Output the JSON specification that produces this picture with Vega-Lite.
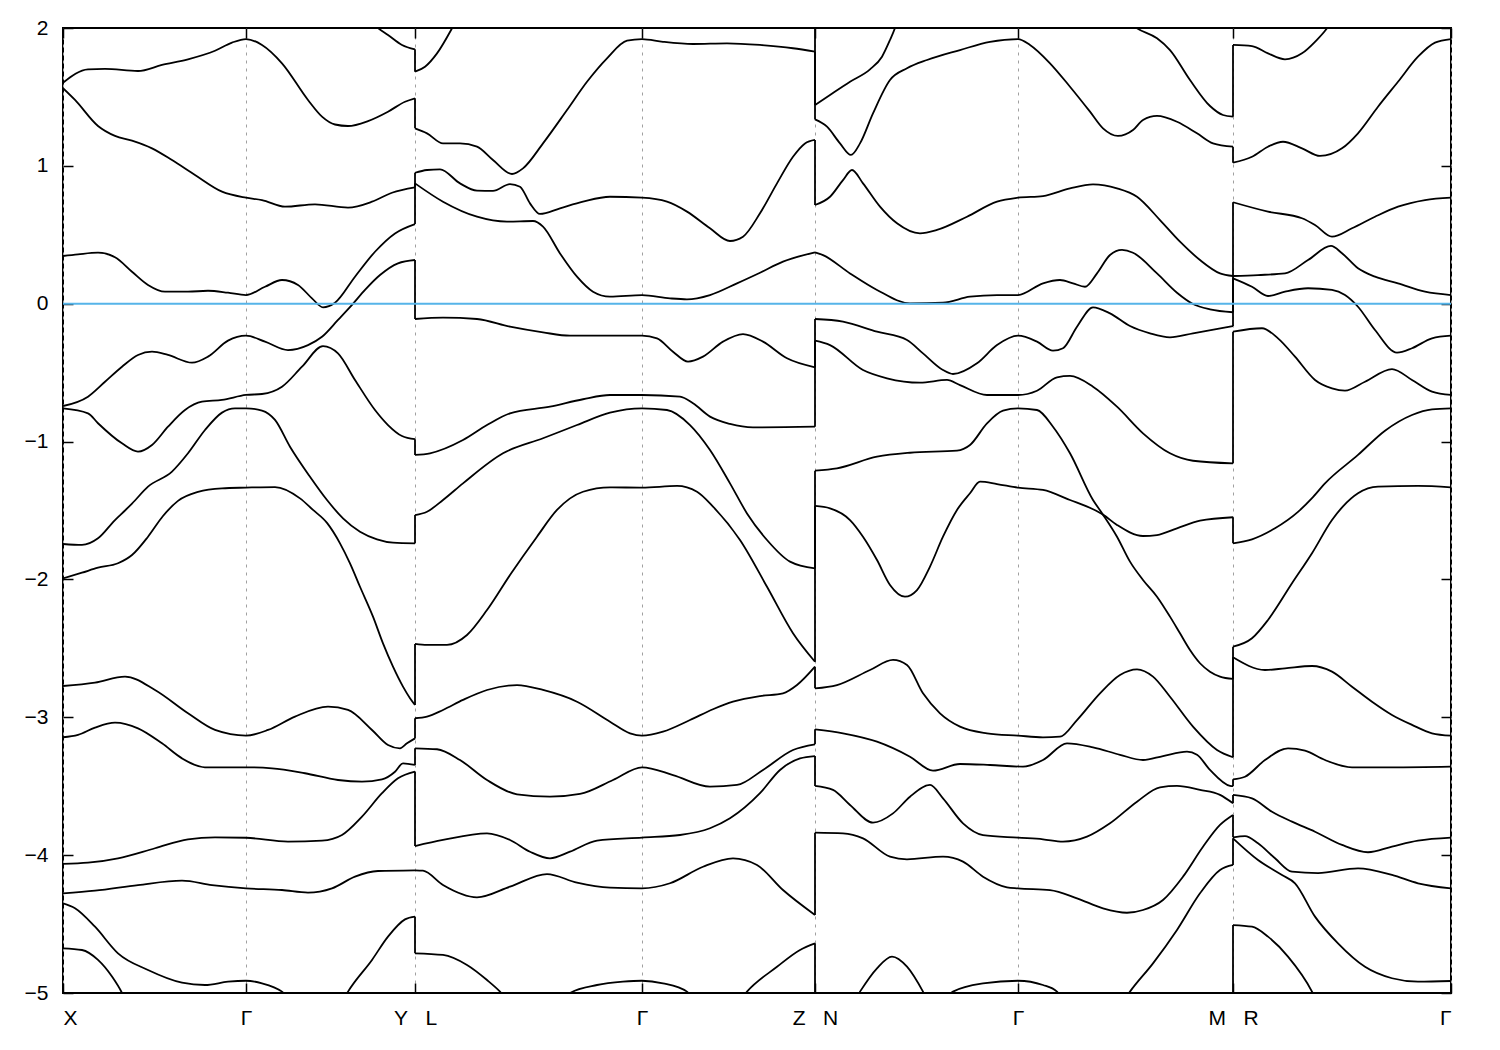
{
"$schema": "https://vega.github.io/schema/vega-lite/v6.json",
"width": 1388, "height": 965,
"autosize": "none",
"padding": {"left": 63, "top": 28, "right": 49, "bottom": 57},
"background": "white",
"config": {"view": {"stroke": "black", "strokeWidth": 2}, "axis": {"labelFont": "Liberation Sans", "labelFontSize": 21, "labelColor": "black", "tickColor": "black", "tickWidth": 1.5, "domain": false, "title": null}},
"datasets": {
"bands": [
{"b":"1A","x":0,"y":1.603},{"b":"1A","x":25,"y":1.70},{"b":"1A","x":42,"y":1.703},{"b":"1A","x":75,"y":1.688},{"b":"1A","x":99,"y":1.732},{"b":"1A","x":125,"y":1.773},{"b":"1A","x":152,"y":1.835},{"b":"1A","x":169,"y":1.894},{"b":"1A","x":183,"y":1.92},{"b":"1A","x":199,"y":1.877},{"b":"1A","x":219,"y":1.744},{"b":"1A","x":245,"y":1.478},{"b":"1A","x":259,"y":1.357},{"b":"1A","x":272,"y":1.30},{"b":"1A","x":285,"y":1.289},{"b":"1A","x":305,"y":1.325},{"b":"1A","x":325,"y":1.393},{"b":"1A","x":342,"y":1.465},{"b":"1A","x":352,"y":1.49},
{"b":"1T","x":285,"y":2.22},{"b":"1T","x":300,"y":2.1},{"b":"1T","x":315,"y":2.0},{"b":"1T","x":325,"y":1.95},{"b":"1T","x":339,"y":1.877},{"b":"1T","x":352,"y":1.845},
{"b":"1B","x":0,"y":1.563},{"b":"1B","x":12,"y":1.478},{"b":"1B","x":35,"y":1.289},{"b":"1B","x":52,"y":1.217},{"b":"1B","x":69,"y":1.183},{"b":"1B","x":89,"y":1.127},{"b":"1B","x":109,"y":1.042},{"b":"1B","x":132,"y":0.934},{"b":"1B","x":159,"y":0.813},{"b":"1B","x":183,"y":0.769},{"b":"1B","x":199,"y":0.752},{"b":"1B","x":222,"y":0.704},{"b":"1B","x":252,"y":0.721},{"b":"1B","x":285,"y":0.697},{"b":"1B","x":309,"y":0.74},{"b":"1B","x":329,"y":0.805},{"b":"1B","x":352,"y":0.844},
{"b":"1C","x":0,"y":0.346},{"b":"1C","x":15,"y":0.358},{"b":"1C","x":35,"y":0.37},{"b":"1C","x":52,"y":0.337},{"b":"1C","x":69,"y":0.232},{"b":"1C","x":85,"y":0.136},{"b":"1C","x":102,"y":0.087},{"b":"1C","x":125,"y":0.087},{"b":"1C","x":145,"y":0.094},{"b":"1C","x":165,"y":0.08},{"b":"1C","x":183,"y":0.063},{"b":"1C","x":202,"y":0.123},{"b":"1C","x":219,"y":0.172},{"b":"1C","x":235,"y":0.136},{"b":"1C","x":249,"y":0.039},{"b":"1C","x":260,"y":-0.026},{"b":"1C","x":272,"y":0.007},{"b":"1C","x":292,"y":0.196},{"b":"1C","x":312,"y":0.377},{"b":"1C","x":332,"y":0.51},{"b":"1C","x":352,"y":0.578},
{"b":"1D","x":0,"y":-0.742},{"b":"1D","x":25,"y":-0.674},{"b":"1D","x":42,"y":-0.566},{"b":"1D","x":59,"y":-0.457},{"b":"1D","x":75,"y":-0.372},{"b":"1D","x":89,"y":-0.348},{"b":"1D","x":105,"y":-0.372},{"b":"1D","x":129,"y":-0.428},{"b":"1D","x":145,"y":-0.384},{"b":"1D","x":165,"y":-0.268},{"b":"1D","x":183,"y":-0.232},{"b":"1D","x":202,"y":-0.275},{"b":"1D","x":225,"y":-0.336},{"b":"1D","x":245,"y":-0.30},{"b":"1D","x":259,"y":-0.24},{"b":"1D","x":275,"y":-0.118},{"b":"1D","x":289,"y":-0.009},{"b":"1D","x":302,"y":0.10},{"b":"1D","x":317,"y":0.208},{"b":"1D","x":335,"y":0.293},{"b":"1D","x":352,"y":0.317},
{"b":"1F","x":0,"y":-0.759},{"b":"1F","x":25,"y":-0.795},{"b":"1F","x":35,"y":-0.867},{"b":"1F","x":59,"y":-1.013},{"b":"1F","x":75,"y":-1.073},{"b":"1F","x":89,"y":-1.025},{"b":"1F","x":105,"y":-0.892},{"b":"1F","x":122,"y":-0.771},{"b":"1F","x":139,"y":-0.711},{"b":"1F","x":159,"y":-0.698},{"b":"1F","x":183,"y":-0.662},{"b":"1F","x":199,"y":-0.655},{"b":"1F","x":219,"y":-0.602},{"b":"1F","x":239,"y":-0.457},{"b":"1F","x":260,"y":-0.307},{"b":"1F","x":275,"y":-0.36},{"b":"1F","x":292,"y":-0.553},{"b":"1F","x":312,"y":-0.771},{"b":"1F","x":325,"y":-0.88},{"b":"1F","x":339,"y":-0.96},{"b":"1F","x":352,"y":-0.983},
{"b":"1G","x":0,"y":-1.743},{"b":"1G","x":19,"y":-1.75},{"b":"1G","x":35,"y":-1.702},{"b":"1G","x":52,"y":-1.569},{"b":"1G","x":62,"y":-1.50},{"b":"1G","x":69,"y":-1.45},{"b":"1G","x":85,"y":-1.327},{"b":"1G","x":109,"y":-1.218},{"b":"1G","x":125,"y":-1.085},{"b":"1G","x":142,"y":-0.916},{"b":"1G","x":159,"y":-0.79},{"b":"1G","x":172,"y":-0.759},{"b":"1G","x":183,"y":-0.759},{"b":"1G","x":199,"y":-0.775},{"b":"1G","x":212,"y":-0.843},{"b":"1G","x":227,"y":-1.037},{"b":"1G","x":247,"y":-1.255},{"b":"1G","x":264,"y":-1.424},{"b":"1G","x":280,"y":-1.557},{"b":"1G","x":297,"y":-1.654},{"b":"1G","x":314,"y":-1.709},{"b":"1G","x":330,"y":-1.733},{"b":"1G","x":352,"y":-1.738},
{"b":"1H","x":0,"y":-1.992},{"b":"1H","x":19,"y":-1.951},{"b":"1H","x":35,"y":-1.915},{"b":"1H","x":55,"y":-1.883},{"b":"1H","x":69,"y":-1.823},{"b":"1H","x":85,"y":-1.69},{"b":"1H","x":100,"y":-1.54},{"b":"1H","x":115,"y":-1.43},{"b":"1H","x":135,"y":-1.365},{"b":"1H","x":159,"y":-1.339},{"b":"1H","x":183,"y":-1.334},{"b":"1H","x":212,"y":-1.33},{"b":"1H","x":237,"y":-1.412},{"b":"1H","x":250,"y":-1.496},{"b":"1H","x":264,"y":-1.59},{"b":"1H","x":277,"y":-1.738},{"b":"1H","x":287,"y":-1.883},{"b":"1H","x":297,"y":-2.053},{"b":"1H","x":310,"y":-2.27},{"b":"1H","x":320,"y":-2.464},{"b":"1H","x":330,"y":-2.633},{"b":"1H","x":340,"y":-2.778},{"b":"1H","x":347,"y":-2.862},{"b":"1H","x":352,"y":-2.911},
{"b":"1I","x":0,"y":-2.773},{"b":"1I","x":32,"y":-2.749},{"b":"1I","x":62,"y":-2.705},{"b":"1I","x":92,"y":-2.802},{"b":"1I","x":125,"y":-2.971},{"b":"1I","x":152,"y":-3.092},{"b":"1I","x":183,"y":-3.133},{"b":"1I","x":205,"y":-3.092},{"b":"1I","x":232,"y":-2.995},{"b":"1I","x":265,"y":-2.923},{"b":"1I","x":285,"y":-2.947},{"b":"1I","x":309,"y":-3.092},{"b":"1I","x":325,"y":-3.201},{"b":"1I","x":337,"y":-3.225},{"b":"1I","x":344,"y":-3.189},{"b":"1I","x":352,"y":-3.153},
{"b":"1J","x":0,"y":-3.145},{"b":"1J","x":15,"y":-3.128},{"b":"1J","x":32,"y":-3.075},{"b":"1J","x":52,"y":-3.039},{"b":"1J","x":75,"y":-3.08},{"b":"1J","x":99,"y":-3.189},{"b":"1J","x":119,"y":-3.298},{"b":"1J","x":142,"y":-3.363},{"b":"1J","x":183,"y":-3.363},{"b":"1J","x":209,"y":-3.37},{"b":"1J","x":242,"y":-3.406},{"b":"1J","x":275,"y":-3.455},{"b":"1J","x":299,"y":-3.467},{"b":"1J","x":319,"y":-3.45},{"b":"1J","x":332,"y":-3.395},{"b":"1J","x":340,"y":-3.334},{"b":"1J","x":352,"y":-3.346},
{"b":"1K","x":0,"y":-4.064},{"b":"1K","x":25,"y":-4.055},{"b":"1K","x":55,"y":-4.023},{"b":"1K","x":92,"y":-3.95},{"b":"1K","x":125,"y":-3.885},{"b":"1K","x":152,"y":-3.871},{"b":"1K","x":183,"y":-3.874},{"b":"1K","x":225,"y":-3.902},{"b":"1K","x":259,"y":-3.895},{"b":"1K","x":279,"y":-3.854},{"b":"1K","x":299,"y":-3.721},{"b":"1K","x":319,"y":-3.551},{"b":"1K","x":335,"y":-3.443},{"b":"1K","x":352,"y":-3.394},
{"b":"1L","x":0,"y":-4.277},{"b":"1L","x":32,"y":-4.258},{"b":"1L","x":75,"y":-4.217},{"b":"1L","x":119,"y":-4.185},{"b":"1L","x":149,"y":-4.217},{"b":"1L","x":183,"y":-4.241},{"b":"1L","x":219,"y":-4.253},{"b":"1L","x":245,"y":-4.272},{"b":"1L","x":269,"y":-4.241},{"b":"1L","x":292,"y":-4.156},{"b":"1L","x":315,"y":-4.115},{"b":"1L","x":352,"y":-4.11},
{"b":"1M","x":0,"y":-4.349},{"b":"1M","x":12,"y":-4.385},{"b":"1M","x":32,"y":-4.519},{"b":"1M","x":55,"y":-4.712},{"b":"1M","x":85,"y":-4.833},{"b":"1M","x":119,"y":-4.925},{"b":"1M","x":142,"y":-4.942},{"b":"1M","x":165,"y":-4.918},{"b":"1M","x":183,"y":-4.911},{"b":"1M","x":199,"y":-4.93},{"b":"1M","x":219,"y":-4.99},{"b":"1M","x":235,"y":-5.1},{"b":"1M","x":255,"y":-5.2},{"b":"1M","x":275,"y":-5.12},{"b":"1M","x":285,"y":-4.99},{"b":"1M","x":309,"y":-4.76},{"b":"1M","x":325,"y":-4.591},{"b":"1M","x":342,"y":-4.466},{"b":"1M","x":352,"y":-4.446},
{"b":"1N","x":0,"y":-4.676},{"b":"1N","x":19,"y":-4.688},{"b":"1N","x":35,"y":-4.76},{"b":"1N","x":49,"y":-4.881},{"b":"1N","x":59,"y":-5.0},{"b":"1N","x":75,"y":-5.3},
{"b":"2a","x":352,"y":1.683},{"b":"2a","x":362,"y":1.719},{"b":"2a","x":374,"y":1.816},{"b":"2a","x":389,"y":1.998},{"b":"2a","x":400,"y":2.15},
{"b":"2b","x":352,"y":1.272},{"b":"2b","x":364,"y":1.236},{"b":"2b","x":380,"y":1.163},{"b":"2b","x":397,"y":1.163},{"b":"2b","x":414,"y":1.139},{"b":"2b","x":430,"y":1.042},{"b":"2b","x":449,"y":0.941},{"b":"2b","x":460,"y":0.982},{"b":"2b","x":480,"y":1.163},{"b":"2b","x":504,"y":1.405},{"b":"2b","x":524,"y":1.61},{"b":"2b","x":544,"y":1.78},{"b":"2b","x":564,"y":1.908},{"b":"2b","x":579,"y":1.92},{"b":"2b","x":600,"y":1.90},{"b":"2b","x":630,"y":1.884},{"b":"2b","x":664,"y":1.889},{"b":"2b","x":697,"y":1.877},{"b":"2b","x":730,"y":1.853},{"b":"2b","x":752,"y":1.828},
{"b":"2c","x":352,"y":0.95},{"b":"2c","x":364,"y":0.97},{"b":"2c","x":377,"y":0.975},{"b":"2c","x":397,"y":0.873},{"b":"2c","x":414,"y":0.82},{"b":"2c","x":430,"y":0.818},{"b":"2c","x":447,"y":0.868},{"b":"2c","x":457,"y":0.849},{"b":"2c","x":467,"y":0.728},{"b":"2c","x":477,"y":0.651},{"b":"2c","x":497,"y":0.692},{"b":"2c","x":520,"y":0.74},{"b":"2c","x":547,"y":0.776},{"b":"2c","x":579,"y":0.769},{"b":"2c","x":604,"y":0.74},{"b":"2c","x":624,"y":0.668},{"b":"2c","x":647,"y":0.547},{"b":"2c","x":667,"y":0.455},{"b":"2c","x":680,"y":0.486},{"b":"2c","x":697,"y":0.656},{"b":"2c","x":714,"y":0.873},{"b":"2c","x":730,"y":1.066},{"b":"2c","x":742,"y":1.163},{"b":"2c","x":752,"y":1.188},
{"b":"2d","x":352,"y":0.873},{"b":"2d","x":380,"y":0.74},{"b":"2d","x":414,"y":0.631},{"b":"2d","x":444,"y":0.595},{"b":"2d","x":470,"y":0.60},{"b":"2d","x":480,"y":0.559},{"b":"2d","x":497,"y":0.365},{"b":"2d","x":514,"y":0.196},{"b":"2d","x":530,"y":0.087},{"b":"2d","x":547,"y":0.051},{"b":"2d","x":579,"y":0.063},{"b":"2d","x":607,"y":0.039},{"b":"2d","x":624,"y":0.032},{"b":"2d","x":647,"y":0.063},{"b":"2d","x":674,"y":0.148},{"b":"2d","x":697,"y":0.225},{"b":"2d","x":720,"y":0.305},{"b":"2d","x":752,"y":0.373},
{"b":"2e","x":352,"y":-0.111},{"b":"2e","x":380,"y":-0.101},{"b":"2e","x":414,"y":-0.111},{"b":"2e","x":447,"y":-0.167},{"b":"2e","x":480,"y":-0.208},{"b":"2e","x":507,"y":-0.232},{"b":"2e","x":579,"y":-0.232},{"b":"2e","x":594,"y":-0.251},{"b":"2e","x":610,"y":-0.348},{"b":"2e","x":625,"y":-0.42},{"b":"2e","x":640,"y":-0.384},{"b":"2e","x":660,"y":-0.275},{"b":"2e","x":680,"y":-0.22},{"b":"2e","x":700,"y":-0.275},{"b":"2e","x":724,"y":-0.396},{"b":"2e","x":752,"y":-0.461},
{"b":"2f","x":352,"y":-1.097},{"b":"2f","x":367,"y":-1.085},{"b":"2f","x":400,"y":-0.989},{"b":"2f","x":424,"y":-0.88},{"b":"2f","x":447,"y":-0.795},{"b":"2f","x":487,"y":-0.747},{"b":"2f","x":520,"y":-0.693},{"b":"2f","x":547,"y":-0.662},{"b":"2f","x":579,"y":-0.662},{"b":"2f","x":617,"y":-0.674},{"b":"2f","x":630,"y":-0.722},{"b":"2f","x":647,"y":-0.819},{"b":"2f","x":667,"y":-0.872},{"b":"2f","x":690,"y":-0.897},{"b":"2f","x":752,"y":-0.892},
{"b":"2g","x":352,"y":-1.533},{"b":"2g","x":364,"y":-1.509},{"b":"2g","x":380,"y":-1.424},{"b":"2g","x":400,"y":-1.303},{"b":"2g","x":440,"y":-1.085},{"b":"2g","x":480,"y":-0.976},{"b":"2g","x":514,"y":-0.88},{"b":"2g","x":547,"y":-0.79},{"b":"2g","x":579,"y":-0.759},{"b":"2g","x":604,"y":-0.771},{"b":"2g","x":627,"y":-0.88},{"b":"2g","x":647,"y":-1.061},{"b":"2g","x":667,"y":-1.303},{"b":"2g","x":684,"y":-1.521},{"b":"2g","x":704,"y":-1.714},{"b":"2g","x":727,"y":-1.871},{"b":"2g","x":752,"y":-1.92},
{"b":"2h","x":352,"y":-2.468},{"b":"2h","x":364,"y":-2.475},{"b":"2h","x":384,"y":-2.475},{"b":"2h","x":404,"y":-2.403},{"b":"2h","x":424,"y":-2.222},{"b":"2h","x":447,"y":-1.968},{"b":"2h","x":474,"y":-1.69},{"b":"2h","x":494,"y":-1.496},{"b":"2h","x":520,"y":-1.364},{"b":"2h","x":547,"y":-1.332},{"b":"2h","x":579,"y":-1.334},{"b":"2h","x":614,"y":-1.322},{"b":"2h","x":634,"y":-1.364},{"b":"2h","x":650,"y":-1.472},{"b":"2h","x":677,"y":-1.714},{"b":"2h","x":704,"y":-2.053},{"b":"2h","x":730,"y":-2.39},{"b":"2h","x":752,"y":-2.597},
{"b":"2i","x":352,"y":-3.007},{"b":"2i","x":364,"y":-2.995},{"b":"2i","x":380,"y":-2.947},{"b":"2i","x":400,"y":-2.874},{"b":"2i","x":424,"y":-2.802},{"b":"2i","x":454,"y":-2.766},{"b":"2i","x":480,"y":-2.802},{"b":"2i","x":514,"y":-2.887},{"b":"2i","x":547,"y":-3.032},{"b":"2i","x":567,"y":-3.116},{"b":"2i","x":579,"y":-3.133},{"b":"2i","x":600,"y":-3.104},{"b":"2i","x":627,"y":-3.02},{"b":"2i","x":650,"y":-2.942},{"b":"2i","x":670,"y":-2.887},{"b":"2i","x":697,"y":-2.846},{"b":"2i","x":720,"y":-2.826},{"b":"2i","x":734,"y":-2.766},{"b":"2i","x":752,"y":-2.633},
{"b":"2j","x":352,"y":-3.225},{"b":"2j","x":374,"y":-3.232},{"b":"2j","x":397,"y":-3.31},{"b":"2j","x":424,"y":-3.455},{"b":"2j","x":454,"y":-3.559},{"b":"2j","x":487,"y":-3.576},{"b":"2j","x":517,"y":-3.556},{"b":"2j","x":550,"y":-3.455},{"b":"2j","x":579,"y":-3.363},{"b":"2j","x":610,"y":-3.419},{"b":"2j","x":647,"y":-3.503},{"b":"2j","x":674,"y":-3.491},{"b":"2j","x":700,"y":-3.382},{"b":"2j","x":730,"y":-3.237},{"b":"2j","x":752,"y":-3.196},
{"b":"2k","x":352,"y":-3.934},{"b":"2k","x":380,"y":-3.89},{"b":"2k","x":424,"y":-3.842},{"b":"2k","x":447,"y":-3.89},{"b":"2k","x":467,"y":-3.975},{"b":"2k","x":487,"y":-4.023},{"b":"2k","x":507,"y":-3.975},{"b":"2k","x":534,"y":-3.895},{"b":"2k","x":579,"y":-3.873},{"b":"2k","x":617,"y":-3.854},{"b":"2k","x":647,"y":-3.805},{"b":"2k","x":667,"y":-3.733},{"b":"2k","x":697,"y":-3.551},{"b":"2k","x":717,"y":-3.382},{"b":"2k","x":737,"y":-3.298},{"b":"2k","x":752,"y":-3.281},
{"b":"2l","x":352,"y":-4.11},{"b":"2l","x":360,"y":-4.113},{"b":"2l","x":380,"y":-4.217},{"b":"2l","x":414,"y":-4.306},{"b":"2l","x":447,"y":-4.229},{"b":"2l","x":484,"y":-4.137},{"b":"2l","x":514,"y":-4.2},{"b":"2l","x":547,"y":-4.236},{"b":"2l","x":579,"y":-4.241},{"b":"2l","x":607,"y":-4.204},{"b":"2l","x":640,"y":-4.084},{"b":"2l","x":670,"y":-4.023},{"b":"2l","x":694,"y":-4.071},{"b":"2l","x":720,"y":-4.253},{"b":"2l","x":752,"y":-4.434},
{"b":"2m","x":352,"y":-4.712},{"b":"2m","x":380,"y":-4.724},{"b":"2m","x":404,"y":-4.797},{"b":"2m","x":424,"y":-4.906},{"b":"2m","x":437,"y":-4.99},{"b":"2m","x":460,"y":-5.2},{"b":"2m","x":490,"y":-5.12},{"b":"2m","x":507,"y":-5.0},{"b":"2m","x":534,"y":-4.942},{"b":"2m","x":560,"y":-4.918},{"b":"2m","x":579,"y":-4.911},{"b":"2m","x":600,"y":-4.93},{"b":"2m","x":624,"y":-4.99},{"b":"2m","x":650,"y":-5.2},{"b":"2m","x":670,"y":-5.12},{"b":"2m","x":684,"y":-4.99},{"b":"2m","x":714,"y":-4.81},{"b":"2m","x":737,"y":-4.688},{"b":"2m","x":752,"y":-4.64},
{"b":"3A","x":752,"y":1.441},{"b":"3A","x":767,"y":1.514},{"b":"3A","x":787,"y":1.61},{"b":"3A","x":807,"y":1.70},{"b":"3A","x":819,"y":1.792},{"b":"3A","x":827,"y":1.913},{"b":"3A","x":832,"y":2.0},{"b":"3A","x":840,"y":2.2},
{"b":"3B","x":752,"y":1.337},{"b":"3B","x":764,"y":1.284},{"b":"3B","x":777,"y":1.163},{"b":"3B","x":788,"y":1.079},{"b":"3B","x":797,"y":1.163},{"b":"3B","x":810,"y":1.381},{"b":"3B","x":827,"y":1.623},{"b":"3B","x":844,"y":1.708},{"b":"3B","x":864,"y":1.768},{"b":"3B","x":897,"y":1.84},{"b":"3B","x":927,"y":1.90},{"b":"3B","x":955,"y":1.92},{"b":"3B","x":967,"y":1.877},{"b":"3B","x":987,"y":1.744},{"b":"3B","x":1007,"y":1.574},{"b":"3B","x":1027,"y":1.393},{"b":"3B","x":1040,"y":1.272},{"b":"3B","x":1055,"y":1.217},{"b":"3B","x":1070,"y":1.26},{"b":"3B","x":1080,"y":1.333},{"b":"3B","x":1094,"y":1.362},{"b":"3B","x":1114,"y":1.32},{"b":"3B","x":1134,"y":1.236},{"b":"3B","x":1150,"y":1.163},{"b":"3B","x":1170,"y":1.139},
{"b":"3C","x":1050,"y":2.15},{"b":"3C","x":1074,"y":1.998},{"b":"3C","x":1094,"y":1.925},{"b":"3C","x":1107,"y":1.84},{"b":"3C","x":1127,"y":1.623},{"b":"3C","x":1147,"y":1.434},{"b":"3C","x":1160,"y":1.369},{"b":"3C","x":1170,"y":1.357},
{"b":"3D","x":752,"y":0.716},{"b":"3D","x":767,"y":0.776},{"b":"3D","x":780,"y":0.897},{"b":"3D","x":789,"y":0.97},{"b":"3D","x":800,"y":0.873},{"b":"3D","x":817,"y":0.704},{"b":"3D","x":834,"y":0.583},{"b":"3D","x":857,"y":0.51},{"b":"3D","x":874,"y":0.535},{"b":"3D","x":904,"y":0.631},{"b":"3D","x":934,"y":0.74},{"b":"3D","x":955,"y":0.769},{"b":"3D","x":980,"y":0.781},{"b":"3D","x":1007,"y":0.837},{"b":"3D","x":1030,"y":0.866},{"b":"3D","x":1054,"y":0.837},{"b":"3D","x":1074,"y":0.776},{"b":"3D","x":1097,"y":0.607},{"b":"3D","x":1117,"y":0.45},{"b":"3D","x":1137,"y":0.317},{"b":"3D","x":1157,"y":0.22},{"b":"3D","x":1170,"y":0.201},
{"b":"3E","x":752,"y":0.373},{"b":"3E","x":760,"y":0.353},{"b":"3E","x":787,"y":0.22},{"b":"3E","x":814,"y":0.10},{"b":"3E","x":847,"y":0.003},{"b":"3E","x":880,"y":0.007},{"b":"3E","x":907,"y":0.051},{"b":"3E","x":934,"y":0.063},{"b":"3E","x":955,"y":0.063},{"b":"3E","x":980,"y":0.148},{"b":"3E","x":997,"y":0.172},{"b":"3E","x":1010,"y":0.148},{"b":"3E","x":1022,"y":0.123},{"b":"3E","x":1034,"y":0.22},{"b":"3E","x":1047,"y":0.353},{"b":"3E","x":1059,"y":0.39},{"b":"3E","x":1070,"y":0.37},{"b":"3E","x":1094,"y":0.22},{"b":"3E","x":1114,"y":0.08},{"b":"3E","x":1130,"y":-0.002},{"b":"3E","x":1147,"y":-0.041},{"b":"3E","x":1170,"y":-0.062},
{"b":"3F","x":752,"y":-0.111},{"b":"3F","x":780,"y":-0.13},{"b":"3F","x":814,"y":-0.203},{"b":"3F","x":844,"y":-0.263},{"b":"3F","x":860,"y":-0.36},{"b":"3F","x":880,"y":-0.481},{"b":"3F","x":890,"y":-0.51},{"b":"3F","x":914,"y":-0.432},{"b":"3F","x":934,"y":-0.30},{"b":"3F","x":955,"y":-0.232},{"b":"3F","x":974,"y":-0.275},{"b":"3F","x":990,"y":-0.341},{"b":"3F","x":1000,"y":-0.323},{"b":"3F","x":1014,"y":-0.167},{"b":"3F","x":1030,"y":-0.026},{"b":"3F","x":1047,"y":-0.07},{"b":"3F","x":1067,"y":-0.162},{"b":"3F","x":1087,"y":-0.215},{"b":"3F","x":1107,"y":-0.244},{"b":"3F","x":1130,"y":-0.215},{"b":"3F","x":1170,"y":-0.162},
{"b":"3G","x":752,"y":-0.268},{"b":"3G","x":767,"y":-0.30},{"b":"3G","x":800,"y":-0.481},{"b":"3G","x":824,"y":-0.541},{"b":"3G","x":857,"y":-0.573},{"b":"3G","x":884,"y":-0.553},{"b":"3G","x":897,"y":-0.59},{"b":"3G","x":924,"y":-0.662},{"b":"3G","x":955,"y":-0.662},{"b":"3G","x":974,"y":-0.631},{"b":"3G","x":994,"y":-0.534},{"b":"3G","x":1007,"y":-0.524},{"b":"3G","x":1030,"y":-0.602},{"b":"3G","x":1054,"y":-0.747},{"b":"3G","x":1080,"y":-0.94},{"b":"3G","x":1107,"y":-1.085},{"b":"3G","x":1130,"y":-1.139},{"b":"3G","x":1170,"y":-1.158},
{"b":"3H","x":752,"y":-1.211},{"b":"3H","x":774,"y":-1.194},{"b":"3H","x":814,"y":-1.11},{"b":"3H","x":847,"y":-1.081},{"b":"3H","x":894,"y":-1.066},{"b":"3H","x":907,"y":-1.025},{"b":"3H","x":924,"y":-0.868},{"b":"3H","x":940,"y":-0.776},{"b":"3H","x":955,"y":-0.759},{"b":"3H","x":974,"y":-0.771},{"b":"3H","x":990,"y":-0.892},{"b":"3H","x":1007,"y":-1.085},{"b":"3H","x":1030,"y":-1.424},{"b":"3H","x":1040,"y":-1.53},{"b":"3H","x":1054,"y":-1.69},{"b":"3H","x":1067,"y":-1.871},{"b":"3H","x":1080,"y":-2.004},{"b":"3H","x":1094,"y":-2.125},{"b":"3H","x":1107,"y":-2.27},{"b":"3H","x":1117,"y":-2.391},{"b":"3H","x":1127,"y":-2.512},{"b":"3H","x":1137,"y":-2.608},{"b":"3H","x":1147,"y":-2.669},{"b":"3H","x":1157,"y":-2.705},{"b":"3H","x":1170,"y":-2.722},
{"b":"3I","x":752,"y":-1.467},{"b":"3I","x":767,"y":-1.484},{"b":"3I","x":787,"y":-1.569},{"b":"3I","x":800,"y":-1.69},{"b":"3I","x":814,"y":-1.859},{"b":"3I","x":827,"y":-2.04},{"b":"3I","x":842,"y":-2.125},{"b":"3I","x":854,"y":-2.077},{"b":"3I","x":867,"y":-1.907},{"b":"3I","x":880,"y":-1.69},{"b":"3I","x":894,"y":-1.496},{"b":"3I","x":907,"y":-1.375},{"b":"3I","x":917,"y":-1.291},{"b":"3I","x":934,"y":-1.308},{"b":"3I","x":955,"y":-1.334},{"b":"3I","x":980,"y":-1.351},{"b":"3I","x":1007,"y":-1.424},{"b":"3I","x":1030,"y":-1.491},{"b":"3I","x":1040,"y":-1.53},{"b":"3I","x":1054,"y":-1.605},{"b":"3I","x":1080,"y":-1.685},{"b":"3I","x":1094,"y":-1.678},{"b":"3I","x":1114,"y":-1.629},{"b":"3I","x":1137,"y":-1.574},{"b":"3I","x":1170,"y":-1.549},
{"b":"3J","x":752,"y":-2.79},{"b":"3J","x":774,"y":-2.766},{"b":"3J","x":807,"y":-2.657},{"b":"3J","x":830,"y":-2.584},{"b":"3J","x":844,"y":-2.621},{"b":"3J","x":860,"y":-2.826},{"b":"3J","x":877,"y":-2.971},{"b":"3J","x":897,"y":-3.068},{"b":"3J","x":924,"y":-3.116},{"b":"3J","x":955,"y":-3.133},{"b":"3J","x":980,"y":-3.145},{"b":"3J","x":997,"y":-3.141},{"b":"3J","x":1014,"y":-3.02},{"b":"3J","x":1037,"y":-2.826},{"b":"3J","x":1057,"y":-2.693},{"b":"3J","x":1074,"y":-2.652},{"b":"3J","x":1090,"y":-2.705},{"b":"3J","x":1107,"y":-2.851},{"b":"3J","x":1130,"y":-3.068},{"b":"3J","x":1154,"y":-3.237},{"b":"3J","x":1170,"y":-3.29},
{"b":"3K","x":752,"y":-3.087},{"b":"3K","x":780,"y":-3.116},{"b":"3K","x":814,"y":-3.177},{"b":"3K","x":847,"y":-3.286},{"b":"3K","x":870,"y":-3.387},{"b":"3K","x":897,"y":-3.339},{"b":"3K","x":927,"y":-3.346},{"b":"3K","x":960,"y":-3.358},{"b":"3K","x":980,"y":-3.31},{"b":"3K","x":1004,"y":-3.189},{"b":"3K","x":1030,"y":-3.218},{"b":"3K","x":1057,"y":-3.272},{"b":"3K","x":1080,"y":-3.31},{"b":"3K","x":1100,"y":-3.281},{"b":"3K","x":1124,"y":-3.249},{"b":"3K","x":1134,"y":-3.272},{"b":"3K","x":1147,"y":-3.382},{"b":"3K","x":1167,"y":-3.498},{"b":"3K","x":1170,"y":-3.5},
{"b":"3L","x":752,"y":-3.498},{"b":"3L","x":770,"y":-3.527},{"b":"3L","x":787,"y":-3.636},{"b":"3L","x":810,"y":-3.764},{"b":"3L","x":830,"y":-3.697},{"b":"3L","x":847,"y":-3.576},{"b":"3L","x":867,"y":-3.491},{"b":"3L","x":880,"y":-3.588},{"b":"3L","x":900,"y":-3.769},{"b":"3L","x":920,"y":-3.854},{"b":"3L","x":955,"y":-3.873},{"b":"3L","x":980,"y":-3.885},{"b":"3L","x":1000,"y":-3.902},{"b":"3L","x":1024,"y":-3.866},{"b":"3L","x":1047,"y":-3.769},{"b":"3L","x":1074,"y":-3.612},{"b":"3L","x":1097,"y":-3.508},{"b":"3L","x":1114,"y":-3.498},{"b":"3L","x":1137,"y":-3.527},{"b":"3L","x":1157,"y":-3.563},{"b":"3L","x":1170,"y":-3.624},
{"b":"3M","x":752,"y":-3.837},{"b":"3M","x":780,"y":-3.842},{"b":"3M","x":800,"y":-3.878},{"b":"3M","x":827,"y":-4.011},{"b":"3M","x":844,"y":-4.03},{"b":"3M","x":880,"y":-4.011},{"b":"3M","x":900,"y":-4.047},{"b":"3M","x":920,"y":-4.156},{"b":"3M","x":944,"y":-4.233},{"b":"3M","x":955,"y":-4.241},{"b":"3M","x":987,"y":-4.253},{"b":"3M","x":1014,"y":-4.313},{"b":"3M","x":1040,"y":-4.386},{"b":"3M","x":1064,"y":-4.418},{"b":"3M","x":1080,"y":-4.398},{"b":"3M","x":1100,"y":-4.325},{"b":"3M","x":1120,"y":-4.156},{"b":"3M","x":1140,"y":-3.939},{"b":"3M","x":1157,"y":-3.781},{"b":"3M","x":1170,"y":-3.709},
{"b":"3N","x":1040,"y":-5.3},{"b":"3N","x":1067,"y":-4.99},{"b":"3N","x":1090,"y":-4.785},{"b":"3N","x":1114,"y":-4.543},{"b":"3N","x":1137,"y":-4.277},{"b":"3N","x":1157,"y":-4.108},{"b":"3N","x":1170,"y":-4.071},
{"b":"3O","x":752,"y":-5.5},{"b":"3O","x":780,"y":-5.2},{"b":"3O","x":797,"y":-4.99},{"b":"3O","x":814,"y":-4.821},{"b":"3O","x":829,"y":-4.736},{"b":"3O","x":844,"y":-4.809},{"b":"3O","x":860,"y":-4.99},{"b":"3O","x":880,"y":-5.3},
{"b":"3P","x":870,"y":-5.2},{"b":"3P","x":890,"y":-4.99},{"b":"3P","x":920,"y":-4.93},{"b":"3P","x":955,"y":-4.911},{"b":"3P","x":980,"y":-4.942},{"b":"3P","x":994,"y":-4.99},{"b":"3P","x":1010,"y":-5.2},
{"b":"4a","x":1170,"y":1.877},{"b":"4a","x":1189,"y":1.869},{"b":"4a","x":1205,"y":1.816},{"b":"4a","x":1222,"y":1.773},{"b":"4a","x":1239,"y":1.816},{"b":"4a","x":1252,"y":1.90},{"b":"4a","x":1264,"y":1.998},{"b":"4a","x":1280,"y":2.2},
{"b":"4b","x":1170,"y":1.023},{"b":"4b","x":1189,"y":1.066},{"b":"4b","x":1205,"y":1.139},{"b":"4b","x":1220,"y":1.175},{"b":"4b","x":1239,"y":1.127},{"b":"4b","x":1257,"y":1.072},{"b":"4b","x":1279,"y":1.127},{"b":"4b","x":1295,"y":1.236},{"b":"4b","x":1315,"y":1.429},{"b":"4b","x":1335,"y":1.61},{"b":"4b","x":1355,"y":1.792},{"b":"4b","x":1372,"y":1.894},{"b":"4b","x":1388,"y":1.92},
{"b":"4c","x":1170,"y":0.736},{"b":"4c","x":1205,"y":0.668},{"b":"4c","x":1239,"y":0.62},{"b":"4c","x":1252,"y":0.571},{"b":"4c","x":1269,"y":0.486},{"b":"4c","x":1289,"y":0.547},{"b":"4c","x":1312,"y":0.631},{"b":"4c","x":1335,"y":0.704},{"b":"4c","x":1362,"y":0.752},{"b":"4c","x":1388,"y":0.769},
{"b":"4d","x":1170,"y":0.201},{"b":"4d","x":1195,"y":0.208},{"b":"4d","x":1222,"y":0.22},{"b":"4d","x":1245,"y":0.317},{"b":"4d","x":1268,"y":0.419},{"b":"4d","x":1279,"y":0.366},{"b":"4d","x":1295,"y":0.257},{"b":"4d","x":1312,"y":0.196},{"b":"4d","x":1335,"y":0.148},{"b":"4d","x":1362,"y":0.087},{"b":"4d","x":1388,"y":0.063},
{"b":"4e","x":1170,"y":0.184},{"b":"4e","x":1189,"y":0.123},{"b":"4e","x":1205,"y":0.056},{"b":"4e","x":1222,"y":0.087},{"b":"4e","x":1245,"y":0.112},{"b":"4e","x":1269,"y":0.10},{"b":"4e","x":1282,"y":0.063},{"b":"4e","x":1295,"y":-0.022},{"b":"4e","x":1312,"y":-0.191},{"b":"4e","x":1334,"y":-0.355},{"b":"4e","x":1349,"y":-0.323},{"b":"4e","x":1369,"y":-0.251},{"b":"4e","x":1388,"y":-0.232},
{"b":"4f","x":1170,"y":-0.203},{"b":"4f","x":1199,"y":-0.178},{"b":"4f","x":1215,"y":-0.251},{"b":"4f","x":1232,"y":-0.384},{"b":"4f","x":1252,"y":-0.553},{"b":"4f","x":1269,"y":-0.614},{"b":"4f","x":1282,"y":-0.631},{"b":"4f","x":1302,"y":-0.566},{"b":"4f","x":1329,"y":-0.474},{"b":"4f","x":1349,"y":-0.553},{"b":"4f","x":1369,"y":-0.638},{"b":"4f","x":1388,"y":-0.662},
{"b":"4g","x":1170,"y":-1.738},{"b":"4g","x":1189,"y":-1.709},{"b":"4g","x":1212,"y":-1.629},{"b":"4g","x":1235,"y":-1.51},{"b":"4g","x":1249,"y":-1.41},{"b":"4g","x":1262,"y":-1.303},{"b":"4g","x":1295,"y":-1.097},{"b":"4g","x":1322,"y":-0.921},{"b":"4g","x":1349,"y":-0.807},{"b":"4g","x":1369,"y":-0.766},{"b":"4g","x":1388,"y":-0.759},
{"b":"4h","x":1170,"y":-2.488},{"b":"4h","x":1189,"y":-2.427},{"b":"4h","x":1205,"y":-2.294},{"b":"4h","x":1229,"y":-2.028},{"b":"4h","x":1249,"y":-1.81},{"b":"4h","x":1269,"y":-1.569},{"b":"4h","x":1280,"y":-1.47},{"b":"4h","x":1295,"y":-1.375},{"b":"4h","x":1315,"y":-1.327},{"b":"4h","x":1355,"y":-1.322},{"b":"4h","x":1388,"y":-1.332},
{"b":"4i","x":1170,"y":-2.565},{"b":"4i","x":1202,"y":-2.657},{"b":"4i","x":1222,"y":-2.645},{"b":"4i","x":1249,"y":-2.628},{"b":"4i","x":1269,"y":-2.669},{"b":"4i","x":1289,"y":-2.778},{"b":"4i","x":1309,"y":-2.887},{"b":"4i","x":1329,"y":-2.983},{"b":"4i","x":1349,"y":-3.055},{"b":"4i","x":1369,"y":-3.116},{"b":"4i","x":1388,"y":-3.133},
{"b":"4j","x":1170,"y":-3.45},{"b":"4j","x":1182,"y":-3.431},{"b":"4j","x":1202,"y":-3.31},{"b":"4j","x":1225,"y":-3.225},{"b":"4j","x":1242,"y":-3.242},{"b":"4j","x":1262,"y":-3.31},{"b":"4j","x":1289,"y":-3.363},{"b":"4j","x":1329,"y":-3.363},{"b":"4j","x":1388,"y":-3.358},
{"b":"4k","x":1170,"y":-3.563},{"b":"4k","x":1189,"y":-3.588},{"b":"4k","x":1209,"y":-3.685},{"b":"4k","x":1229,"y":-3.757},{"b":"4k","x":1252,"y":-3.83},{"b":"4k","x":1279,"y":-3.926},{"b":"4k","x":1305,"y":-3.979},{"b":"4k","x":1329,"y":-3.938},{"b":"4k","x":1355,"y":-3.895},{"b":"4k","x":1388,"y":-3.873},
{"b":"4l","x":1170,"y":-3.871},{"b":"4l","x":1182,"y":-3.862},{"b":"4l","x":1195,"y":-3.914},{"b":"4l","x":1212,"y":-4.023},{"b":"4l","x":1229,"y":-4.12},{"b":"4l","x":1255,"y":-4.13},{"b":"4l","x":1295,"y":-4.096},{"b":"4l","x":1329,"y":-4.144},{"b":"4l","x":1355,"y":-4.204},{"b":"4l","x":1388,"y":-4.241},
{"b":"4m","x":1170,"y":-3.878},{"b":"4m","x":1195,"y":-4.035},{"b":"4m","x":1219,"y":-4.144},{"b":"4m","x":1232,"y":-4.204},{"b":"4m","x":1252,"y":-4.446},{"b":"4m","x":1275,"y":-4.64},{"b":"4m","x":1302,"y":-4.81},{"b":"4m","x":1329,"y":-4.893},{"b":"4m","x":1355,"y":-4.918},{"b":"4m","x":1388,"y":-4.913},
{"b":"4n","x":1170,"y":-4.507},{"b":"4n","x":1189,"y":-4.519},{"b":"4n","x":1205,"y":-4.591},{"b":"4n","x":1225,"y":-4.736},{"b":"4n","x":1249,"y":-4.99},{"b":"4n","x":1262,"y":-5.2}
],
"jumps": [
{"x":352,"y":1.845,"y2":1.683},{"x":352,"y":1.49,"y2":1.272},{"x":352,"y":0.844,"y2":0.95},{"x":352,"y":0.578,"y2":0.873},{"x":352,"y":0.317,"y2":-0.111},{"x":352,"y":-0.983,"y2":-1.097},{"x":352,"y":-1.738,"y2":-1.533},{"x":352,"y":-2.911,"y2":-2.468},{"x":352,"y":-3.153,"y2":-3.007},{"x":352,"y":-3.346,"y2":-3.225},{"x":352,"y":-3.394,"y2":-3.934},{"x":352,"y":-4.446,"y2":-4.712},
{"x":752,"y":2.4,"y2":1.441},{"x":752,"y":1.828,"y2":1.337},{"x":752,"y":1.188,"y2":0.716},{"x":752,"y":-0.461,"y2":-0.111},{"x":752,"y":-0.892,"y2":-0.268},{"x":752,"y":-1.92,"y2":-1.211},{"x":752,"y":-2.597,"y2":-1.467},{"x":752,"y":-2.633,"y2":-2.79},{"x":752,"y":-3.196,"y2":-3.087},{"x":752,"y":-3.281,"y2":-3.498},{"x":752,"y":-4.434,"y2":-3.837},{"x":752,"y":-4.64,"y2":-5.5},
{"x":1170,"y":1.357,"y2":1.877},{"x":1170,"y":1.139,"y2":1.023},{"x":1170,"y":0.201,"y2":0.736},{"x":1170,"y":-0.062,"y2":0.201},{"x":1170,"y":-0.162,"y2":0.184},{"x":1170,"y":-1.158,"y2":-0.203},{"x":1170,"y":-1.549,"y2":-1.738},{"x":1170,"y":-2.722,"y2":-2.488},{"x":1170,"y":-3.29,"y2":-2.565},{"x":1170,"y":-3.5,"y2":-3.45},{"x":1170,"y":-3.624,"y2":-3.563},{"x":1170,"y":-3.709,"y2":-3.871},{"x":1170,"y":-4.071,"y2":-3.878},{"x":1170,"y":-5.5,"y2":-4.507}
]
},
"layer": [
{
"data": {"name": "bands"},
"mark": {"type": "line", "color": "black", "strokeWidth": 1.8, "clip": true, "interpolate": "monotone"},
"encoding": {
"x": {"field": "x", "type": "quantitative", "scale": {"domain": [0, 1388], "nice": false, "zero": false},
"axis": {"orient": "bottom", "values": [0, 183, 352, 579, 752, 955, 1170, 1388], "labelExpr": "datum.value == 0 ? '\u00a0\u00a0X' : datum.value == 352 ? 'Y\u00a0\u00a0\u00a0L' : datum.value == 752 ? 'Z\u00a0\u00a0\u00a0N' : datum.value == 1170 ? 'M\u00a0\u00a0\u00a0R' : datum.value == 1388 ? 'Γ\u00a0' : 'Γ'", "labelFlush": true, "labelOverlap": false, "labelPadding": 24, "tickSize": -10, "grid": true, "gridDash": [3, 5], "gridColor": "#a0a0a0", "gridWidth": 1}},
"y": {"field": "y", "type": "quantitative", "scale": {"domain": [-5, 2], "nice": false, "zero": false},
"axis": {"orient": "left", "values": [-5, -4, -3, -2, -1, 0, 1, 2], "labelPadding": 25, "tickSize": -10, "grid": false, "labelFlush": false}},
"detail": {"field": "b", "type": "nominal"}
}
},
{
"data": {"name": "jumps"},
"mark": {"type": "rule", "color": "black", "strokeWidth": 1.8, "clip": true},
"encoding": {
"x": {"field": "x", "type": "quantitative", "axis": null},
"y": {"field": "y", "type": "quantitative", "axis": null},
"y2": {"field": "y2"}
}
},
{
"data": {"values": [{"e": 0}]},
"mark": {"type": "rule", "color": "#56b4e9", "strokeWidth": 2},
"encoding": {
"y": {"field": "e", "type": "quantitative", "axis": {"orient": "right", "values": [-5, -4, -3, -2, -1, 0, 1, 2], "labels": false, "tickSize": -10, "grid": false}},
"x": {"datum": 0, "type": "quantitative", "axis": {"orient": "top", "values": [0, 183, 352, 579, 752, 955, 1170, 1388], "labels": false, "tickSize": -10, "grid": false}},
"x2": {"datum": 1388}
}
}
],
"resolve": {"axis": {"x": "independent", "y": "independent"}}
}
